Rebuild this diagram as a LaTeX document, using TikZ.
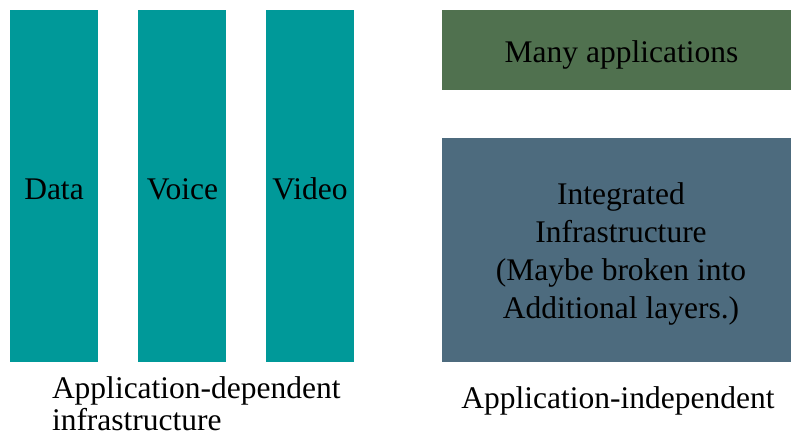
\documentclass[tikz,border=0pt]{standalone}
\usepackage{fontspec}
\setmainfont{Liberation Serif}
\definecolor{teal1}{RGB}{0,153,153}
\definecolor{green1}{RGB}{80,113,79}
\definecolor{blue1}{RGB}{77,107,126}
\tikzset{
  lbl/.style={inner sep=0pt, outer sep=0pt, font=\fontsize{31.5}{37.7}\selectfont, text=black},
}
\begin{document}
\begin{tikzpicture}[x=1pt,y=-1pt]
\useasboundingbox (0,0) rectangle (791,439);
% bars
\fill[teal1] (10,10) rectangle (98,362);
\fill[teal1] (138,10) rectangle (226,362);
\fill[teal1] (266,10) rectangle (354,362);
\node[lbl, anchor=base] (data) at (54,199) {Data};
\node[lbl, anchor=base] (voice) at (182.5,199) {Voice};
\node[lbl, anchor=base] (video) at (310,199) {Video};
% right boxes
\fill[green1] (442,10) rectangle (791,90);
\fill[blue1] (442,138) rectangle (791,362);
\node[lbl, anchor=base] (many) at (621.5,62) {Many applications};
\node[lbl, anchor=base, align=center, font=\fontsize{31.5}{37.7}\selectfont] (integ) at (621,318)
  {Integrated\\Infrastructure\\(Maybe broken into\\Additional layers.)};
% captions
\node[lbl, anchor=base west] (dep) at (52,398) {Application-dependent};
\node[lbl, anchor=base west] (dep2) at (52,430) {infrastructure};
\node[lbl, anchor=base] (indep) at (618,408) {Application-independent};
\end{tikzpicture}
\end{document}
